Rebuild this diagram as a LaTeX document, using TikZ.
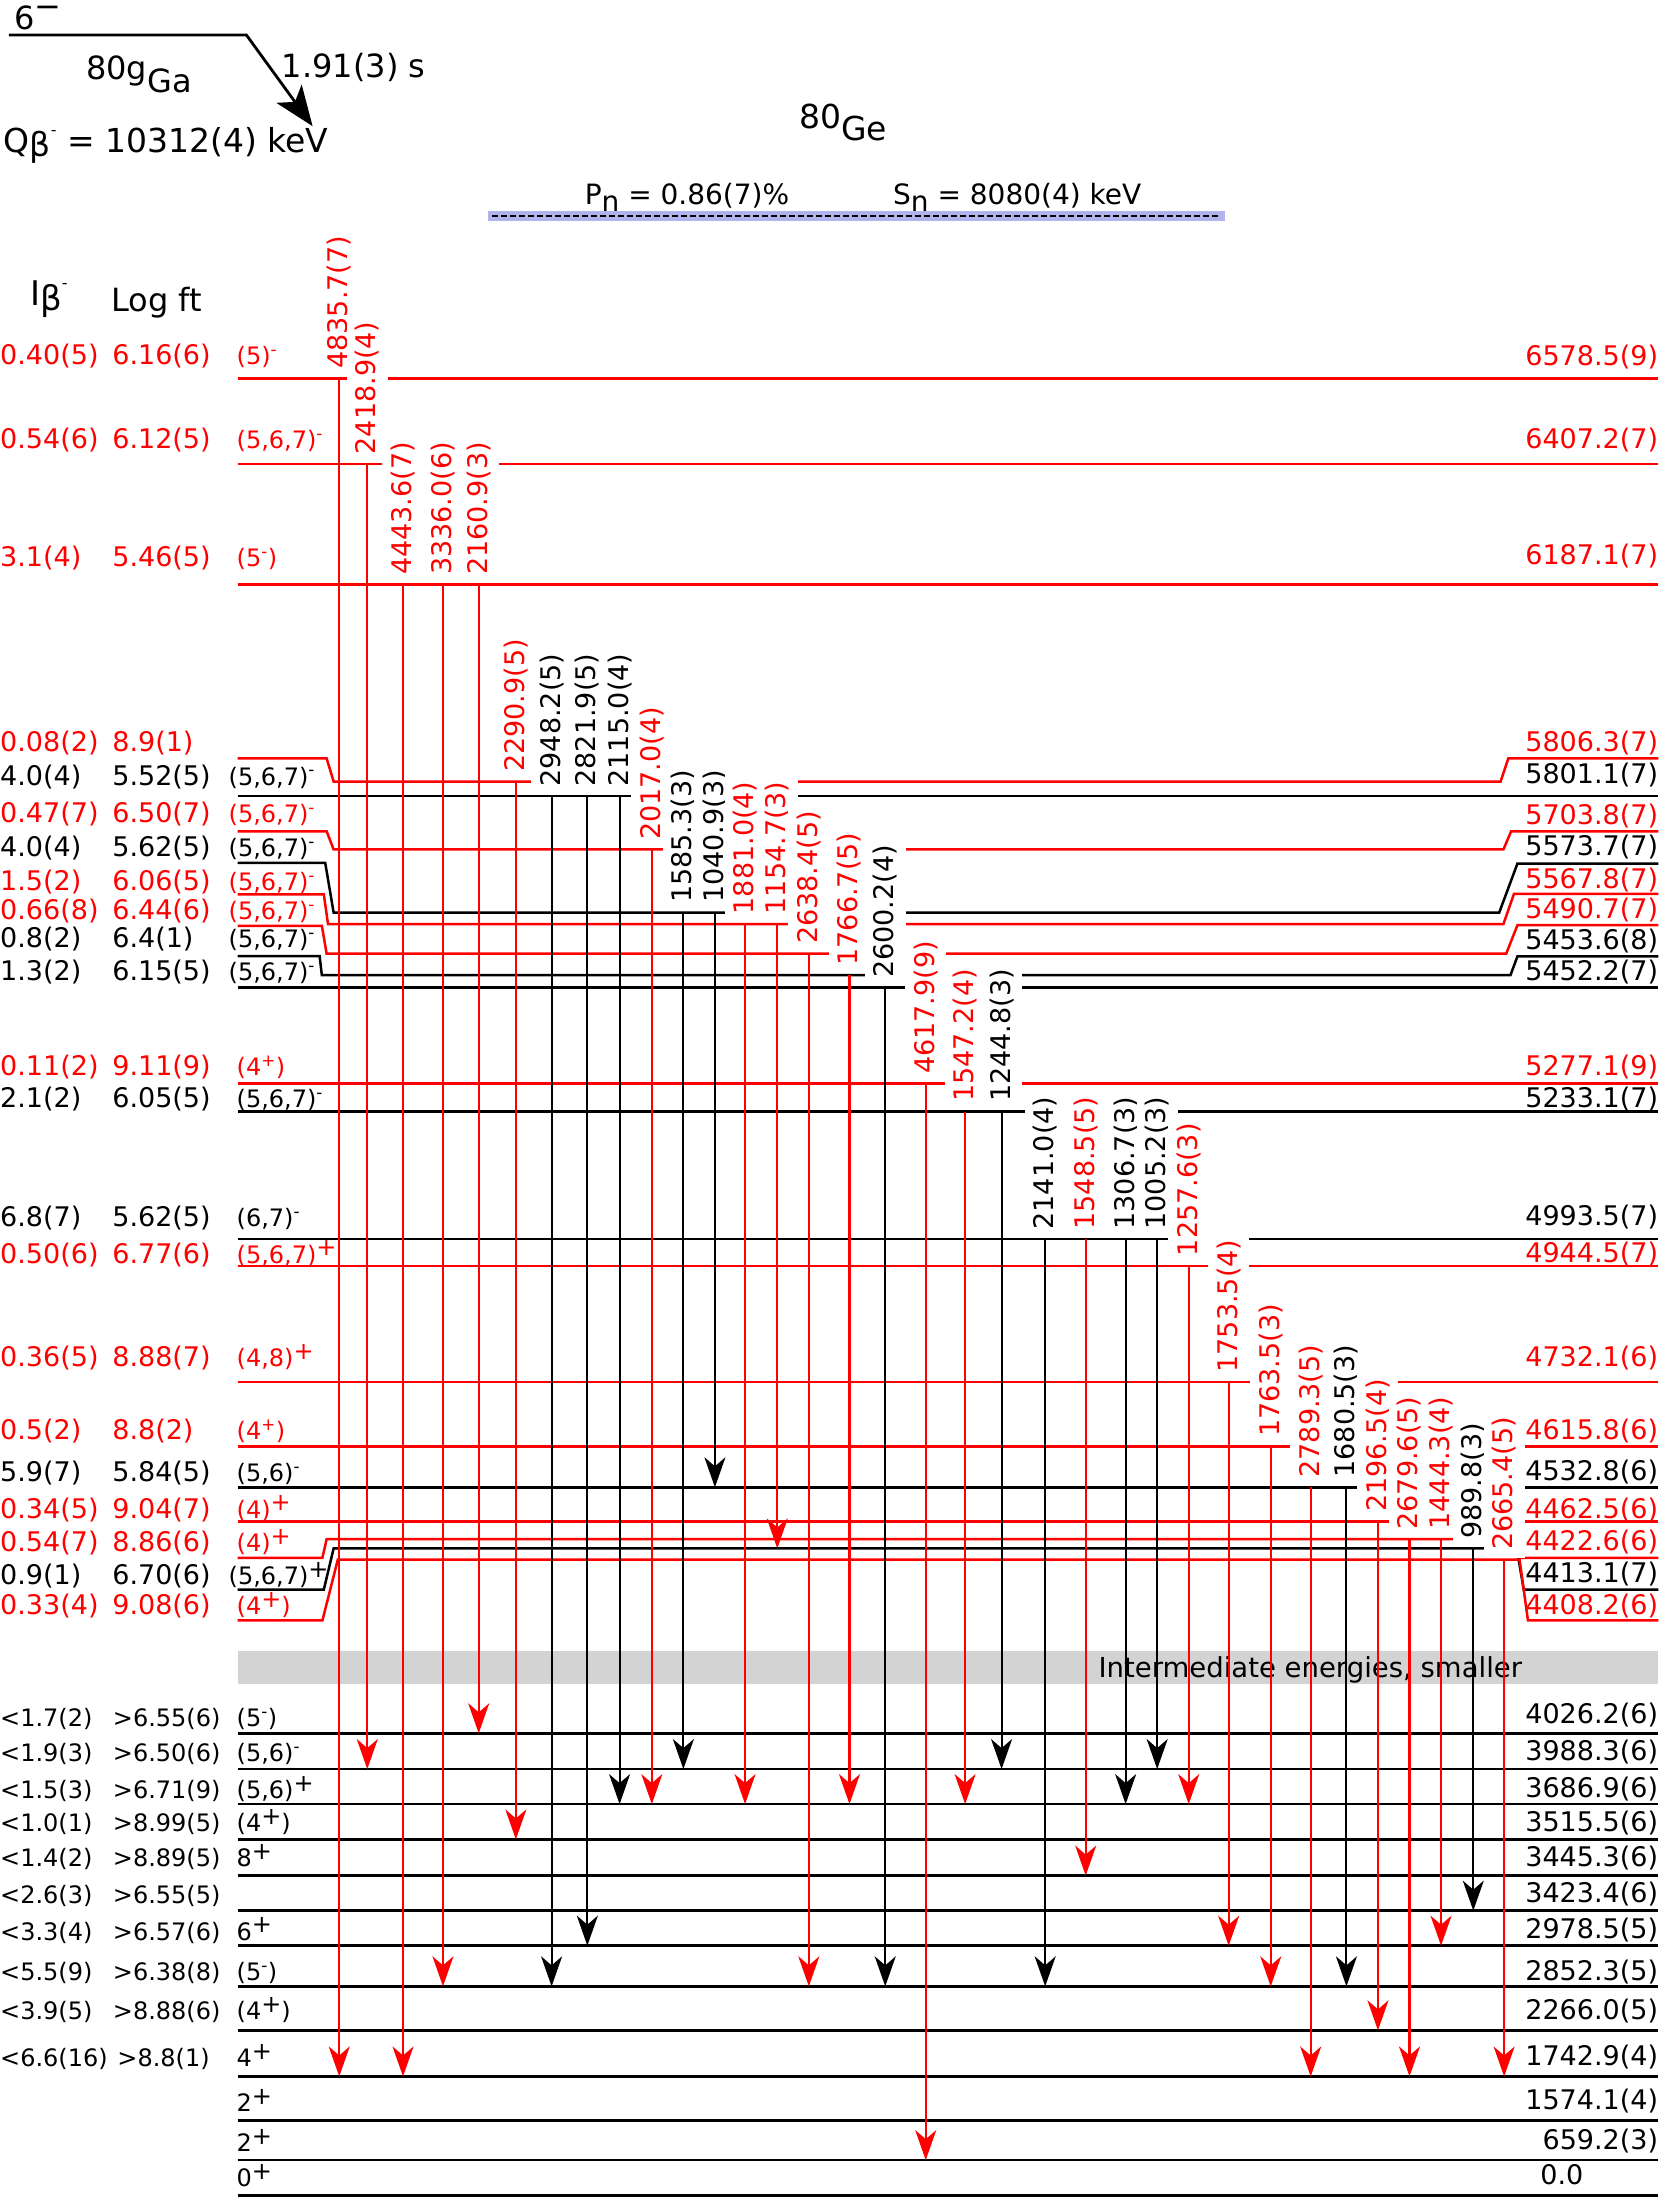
\documentclass[tikz,border=0pt]{standalone}
\usepackage{fontspec}
\setmainfont{DejaVu Sans}
\usetikzlibrary{arrows.meta}
\definecolor{bandgray}{RGB}{211,211,211}
\definecolor{lavband}{RGB}{178,178,238}
\newcommand\fsz[1]{\fontsize{#1}{#1}\selectfont}
\newcommand\bplus{\raisebox{0.3em}{+}}
\newcommand\smin{\textsuperscript{-}}
\newcommand\spl{\textsuperscript{+}}
% transition pass 1 (label): name, x, y start, y end, colour, label
\newcommand\gmlabel[6]{%
  \coordinate (#1s) at (#2,#3);
  \coordinate (#1e) at (#2,#4);
  \node[tlab,text=#5] (#1l) at ([yshift=1.6pt]#1s) {#6};}
% transition pass 2 (arrow)
\newcommand\gmarrow[6]{\draw[tr,draw=#5] (#1s) -- (#1e);}
\newcommand\translist{%
\gm{t1}{242}{270}{1481.3}{red}{4835.7(7)}
\gm{t2}{262}{331}{1262}{red}{2418.9(4)}
\gm{t3}{287.5}{417}{1481.3}{red}{4443.6(7)}
\gm{t4}{316}{417}{1417}{red}{3336.0(6)}
\gm{t5}{341.5}{417}{1236.5}{red}{2160.9(3)}
\gm{t6}{368}{557.5}{1312.2}{red}{2290.9(5)}
\gm{t7}{393.5}{568}{1417}{black}{2948.2(5)}
\gm{t8}{419}{568}{1388}{black}{2821.9(5)}
\gm{t9}{442}{568}{1287}{black}{2115.0(4)}
\gm{t10}{465}{606}{1287}{red}{2017.0(4)}
\gm{t11}{487.5}{651}{1262}{black}{1585.3(3)}
\gm{t12}{510}{651}{1061}{black}{1040.9(3)}
\gm{t13}{531.5}{659.2}{1287}{red}{1881.0(4)}
\gm{t14}{554.5}{659.2}{1104.6}{red}{1154.7(3)}
\gm{t15}{577}{680.3}{1417}{red}{2638.4(5)}
\gm{t16}{606}{695.7}{1287}{red}{1766.7(5)}
\gm{t17}{631.5}{704.5}{1417}{black}{2600.2(4)}
\gm{t18}{660.4}{773}{1541}{red}{4617.9(9)}
\gm{t19}{688.5}{793}{1287}{red}{1547.2(4)}
\gm{t20}{714.5}{793}{1262}{black}{1244.8(3)}
\gm{t21}{745.6}{884}{1417}{black}{2141.0(4)}
\gm{t22}{774.5}{884}{1338}{red}{1548.5(5)}
\gm{t23}{803}{884}{1287}{black}{1306.7(3)}
\gm{t24}{825.5}{884}{1262}{black}{1005.2(3)}
\gm{t25}{848}{903}{1287}{red}{1257.6(3)}
\gm{t26}{876.5}{986}{1388}{red}{1753.5(4)}
\gm{t27}{906.5}{1032}{1417}{red}{1763.5(3)}
\gm{t28}{935}{1061}{1481.3}{red}{2789.3(5)}
\gm{t29}{960.5}{1061}{1417}{black}{1680.5(3)}
\gm{t30}{983}{1085.5}{1448.4}{red}{2196.5(4)}
\gm{t31}{1005.5}{1098}{1481.3}{red}{2679.6(5)}
\gm{t32}{1028}{1098}{1388}{red}{1444.3(4)}
\gm{t33}{1051}{1104.6}{1363}{black}{989.8(3)}
\gm{t34}{1073}{1112.5}{1481.3}{red}{2665.4(5)}}
% left labels: name, colour, baseline y, Ibeta, log ft, J pi, x of J pi
\newcommand\ulab[7]{%
  \node[ilab,text=#2] (#1i) at (0,#3) {#4};
  \node[ilab,text=#2] (#1f) at (80,#3) {#5};
  \node[jlab,text=#2] (#1j) at (#7,#3) {#6};}
\newcommand\blab[5]{%
  \node[slab] (#1i) at (0,#2) {#3};
  \node[slab] (#1f) at (#5,#2) {#4};}
\newcommand\rlab[4]{\node[elab,text=#2] (#1) at (1183,#3) {#4};}
\begin{document}
\begin{tikzpicture}[x=1.4017pt,y=-1.4017pt,
  lvl/.style={line width=2.5pt},
  tr/.style={line width=2.1pt,-{Stealth[length=30pt,width=21pt,inset=9pt]}},
  tlab/.style={rotate=90,anchor=west,fill=white,inner xsep=8pt,inner ysep=8.5pt,font=\fsz{27}},
  ilab/.style={anchor=base west,inner sep=0pt,font=\fsz{27}},
  slab/.style={anchor=base west,inner sep=0pt,font=\fsz{24}},
  jlab/.style={anchor=base west,inner sep=0pt,font=\fsz{24}},
  elab/.style={anchor=base east,inner sep=0pt,font=\fsz{27}},
  hlab/.style={anchor=base west,inner sep=0pt}]
\useasboundingbox (0,0) rectangle (1185,1568);
\fill[white] (0,0) rectangle (1185,1568);

% ---------- header ----------
\node[hlab,font=\fsz{32}] (six) at (10,21.4) {6\raisebox{12.5pt}{−}};
\coordinate (gsA) at (6.4,25);
\coordinate (gsB) at (175.8,25);
\coordinate (gsT) at (223,90);
\draw[line width=2.8pt,-{Stealth[length=40pt,width=31pt,inset=10pt]}] (gsA) -- (gsB) -- (gsT);
\node[hlab,font=\fsz{32}] (parent) at (61.4,57) {80g\raisebox{-13pt}{Ga}};
\node[hlab,font=\fsz{32}] (hlife) at (201,55) {1.91(3) s};
\node[hlab,font=\fsz{33}] (qbeta) at (2.6,109) {Q\raisebox{-4pt}{β}\raisebox{17pt}{\fsz{16}-} = 10312(4) keV};
\node[hlab,font=\fsz{33}] (daughter) at (570,99.9) {\raisebox{12pt}{80}Ge};
\node[hlab,font=\fsz{28}] (pn) at (417,146) {P\raisebox{-7pt}{n} = 0.86(7)\%};
\node[hlab,font=\fsz{28}] (sn) at (637,146) {S\raisebox{-7pt}{n} = 8080(4) keV};
\fill[lavband] (348,150.8) rectangle (874,157.3);
\draw[line width=2.6pt,dash pattern=on 6pt off 3pt] (351,154) -- (871,154);
\node[hlab,font=\fsz{34}] (ibhead) at (21.4,217.6) {I\raisebox{-5pt}{β}\raisebox{17pt}{\fsz{16}-}};
\node[hlab,font=\fsz{32}] (lfthead) at (79.2,222) {Log ft};

% ---------- gray band ----------
\fill[bandgray] (169.5,1178) rectangle (1183,1201.5);
\node[anchor=base east,inner sep=0pt,font=\fsz{27.5}] (band) at (1086,1197) {Intermediate energies, smaller};

% ---------- levels ----------
\draw[lvl,red] (169.5,270) -- (1183,270);
\draw[lvl,red] (169.5,331) -- (1183,331);
\draw[lvl,red] (169.5,417) -- (1183,417);
\draw[lvl,red] (169.5,541) -- (233,541) -- (238,557.5) -- (1070.5,557.5) -- (1076,541) -- (1183,541);
\draw[lvl] (169.5,568) -- (1183,568);
\draw[lvl,red] (169.5,593) -- (233,593) -- (238,606) -- (1072.5,606) -- (1078,593) -- (1183,593);
\draw[lvl] (169.5,615.5) -- (232,615.5) -- (238,651) -- (1069.5,651) -- (1082.5,616) -- (1183,616);
\draw[lvl,red] (169.5,638) -- (231,638) -- (234,659.2) -- (1072.5,659.2) -- (1080,637.7) -- (1183,637.7);
\draw[lvl,red] (169.5,660.4) -- (229.6,660.4) -- (233,680.3) -- (1074.5,680.3) -- (1082.5,660) -- (1183,660);
\draw[lvl] (169.5,682) -- (228,682) -- (229.6,695.7) -- (1077.5,695.7) -- (1082.5,682.2) -- (1183,682.2);
\draw[lvl] (169.5,704.5) -- (1183,704.5);
\draw[lvl,red] (169.5,773) -- (1183,773);
\draw[lvl] (169.5,793) -- (1183,793);
\draw[lvl] (169.5,884) -- (1183,884);
\draw[lvl,red] (169.5,903) -- (1183,903);
\draw[lvl,red] (169.5,986) -- (1183,986);
\draw[lvl,red] (169.5,1032) -- (1183,1032);
\draw[lvl] (169.5,1061) -- (1183,1061);
\draw[lvl,red] (169.5,1085.5) -- (1183,1085.5);
\draw[lvl,red] (169.5,1111.3) -- (230,1111.3) -- (233,1098) -- (1080,1098) -- (1083,1111.3) -- (1183,1111.3);
\draw[lvl] (169.5,1134) -- (231,1134) -- (238,1104.6) -- (1082,1104.6) -- (1087,1134) -- (1183,1134);
\draw[lvl,red] (169.5,1156) -- (230,1156) -- (241,1112.5) -- (1084,1112.5) -- (1090,1156) -- (1183,1156);
\foreach \yy in {1236.5,1262,1287,1312.2,1338,1363,1388,1417,1448.4,1481.3,1512.6,1541,1566.3}
  \draw[lvl] (169.5,\yy) -- (1183,\yy);

% ---------- transitions: labels first, then arrows ----------
\let\gm\gmlabel
\translist
\let\gm\gmarrow
\translist

% ---------- left labels ----------
\ulab{U1}{red}{260}{0.40(5)}{6.16(6)}{(5)\smin}{168.7}
\ulab{U2}{red}{320}{0.54(6)}{6.12(5)}{(5,6,7)\smin}{168.7}
\ulab{U3}{red}{404}{3.1(4)}{5.46(5)}{(5\smin)}{168.7}
\ulab{U4}{red}{536}{0.08(2)}{8.9(1)}{}{168.7}
\ulab{U5}{black}{560}{4.0(4)}{5.52(5)}{(5,6,7)\smin}{163}
\ulab{U6}{red}{587}{0.47(7)}{6.50(7)}{(5,6,7)\smin}{163}
\ulab{U7}{black}{611}{4.0(4)}{5.62(5)}{(5,6,7)\smin}{163}
\ulab{U8}{red}{635}{1.5(2)}{6.06(5)}{(5,6,7)\smin}{163}
\ulab{U9}{red}{656}{0.66(8)}{6.44(6)}{(5,6,7)\smin}{163}
\ulab{U10}{black}{676}{0.8(2)}{6.4(1)}{(5,6,7)\smin}{163}
\ulab{U11}{black}{699.5}{1.3(2)}{6.15(5)}{(5,6,7)\smin}{163}
\ulab{U12}{red}{767}{0.11(2)}{9.11(9)}{(4\spl)}{168.7}
\ulab{U13}{black}{790}{2.1(2)}{6.05(5)}{(5,6,7)\smin}{168.7}
\ulab{U14}{black}{875}{6.8(7)}{5.62(5)}{(6,7)\smin}{168.7}
\ulab{U15}{red}{901}{0.50(6)}{6.77(6)}{(5,6,7)\bplus}{168.7}
\ulab{U16}{red}{975}{0.36(5)}{8.88(7)}{(4,8)\bplus}{168.7}
\ulab{U17}{red}{1027}{0.5(2)}{8.8(2)}{(4\spl)}{168.7}
\ulab{U18}{black}{1057}{5.9(7)}{5.84(5)}{(5,6)\smin}{168.7}
\ulab{U19}{red}{1083}{0.34(5)}{9.04(7)}{(4)\bplus}{168.7}
\ulab{U20}{red}{1107}{0.54(7)}{8.86(6)}{(4)\bplus}{168.7}
\ulab{U21}{black}{1130.6}{0.9(1)}{6.70(6)}{(5,6,7)\bplus}{163}
\ulab{U22}{red}{1152}{0.33(4)}{9.08(6)}{(4\bplus)}{168.7}

\blab{B1}{1231.7}{<1.7(2)}{>6.55(6)}{80.4}
\blab{B2}{1256.7}{<1.9(3)}{>6.50(6)}{80.4}
\blab{B3}{1283}{<1.5(3)}{>6.71(9)}{80.4}
\blab{B4}{1306.6}{<1.0(1)}{>8.99(5)}{80.4}
\blab{B5}{1331.6}{<1.4(2)}{>8.89(5)}{80.4}
\blab{B6}{1357.7}{<2.6(3)}{>6.55(5)}{80.4}
\blab{B7}{1384}{<3.3(4)}{>6.57(6)}{80.4}
\blab{B8}{1413}{<5.5(9)}{>6.38(8)}{80.4}
\blab{B9}{1441}{<3.9(5)}{>8.88(6)}{80.4}
\blab{B10}{1474.3}{<6.6(16)}{>8.8(1)}{83.6}
\node[jlab] (J1) at (168.7,1231.7) {(5\smin)};
\node[jlab] (J2) at (168.7,1256.7) {(5,6)\smin};
\node[jlab] (J3) at (168.7,1283) {(5,6)\bplus};
\node[jlab] (J4) at (168.7,1306.6) {(4\bplus)};
\node[jlab] (J5) at (168.7,1331.6) {8\bplus};
\node[jlab] (J7) at (168.7,1384) {6\bplus};
\node[jlab] (J8) at (168.7,1413) {(5\smin)};
\node[jlab] (J9) at (168.7,1441) {(4\bplus)};
\node[jlab] (J10) at (168.7,1474.3) {4\bplus};
\node[jlab] (J11) at (168.7,1506.4) {2\bplus};
\node[jlab] (J12) at (168.7,1535) {2\bplus};
\node[jlab] (J13) at (168.7,1560) {0\bplus};

% ---------- right labels ----------
\rlab{R1}{red}{261}{6578.5(9)}
\rlab{R2}{red}{320}{6407.2(7)}
\rlab{R3}{red}{403}{6187.1(7)}
\rlab{R4}{red}{536}{5806.3(7)}
\rlab{R5}{black}{559}{5801.1(7)}
\rlab{R6}{red}{588}{5703.8(7)}
\rlab{R7}{black}{610}{5573.7(7)}
\rlab{R8}{red}{634}{5567.8(7)}
\rlab{R9}{red}{655}{5490.7(7)}
\rlab{R10}{black}{677}{5453.6(8)}
\rlab{R11}{black}{699.4}{5452.2(7)}
\rlab{R12}{red}{767}{5277.1(9)}
\rlab{R13}{black}{790}{5233.1(7)}
\rlab{R14}{black}{874}{4993.5(7)}
\rlab{R15}{red}{900.5}{4944.5(7)}
\rlab{R16}{red}{975}{4732.1(6)}
\rlab{R17}{red}{1027}{4615.8(6)}
\rlab{R18}{black}{1056}{4532.8(6)}
\rlab{R19}{red}{1083}{4462.5(6)}
\rlab{R20}{red}{1106}{4422.6(6)}
\rlab{R21}{black}{1129}{4413.1(7)}
\rlab{R22}{red}{1152}{4408.2(6)}
\rlab{R23}{black}{1229.5}{4026.2(6)}
\rlab{R24}{black}{1255.7}{3988.3(6)}
\rlab{R25}{black}{1282}{3686.9(6)}
\rlab{R26}{black}{1306.4}{3515.5(6)}
\rlab{R27}{black}{1331.3}{3445.3(6)}
\rlab{R28}{black}{1357.5}{3423.4(6)}
\rlab{R29}{black}{1383}{2978.5(5)}
\rlab{R30}{black}{1412.5}{2852.3(5)}
\rlab{R31}{black}{1440.3}{2266.0(5)}
\rlab{R32}{black}{1473.5}{1742.9(4)}
\rlab{R33}{black}{1505.2}{1574.1(4)}
\rlab{R34}{black}{1533.3}{659.2(3)}
\node[anchor=base west,inner sep=0pt,font=\fsz{27}] (R35) at (1098.7,1558.7) {0.0};
\end{tikzpicture}
\end{document}
